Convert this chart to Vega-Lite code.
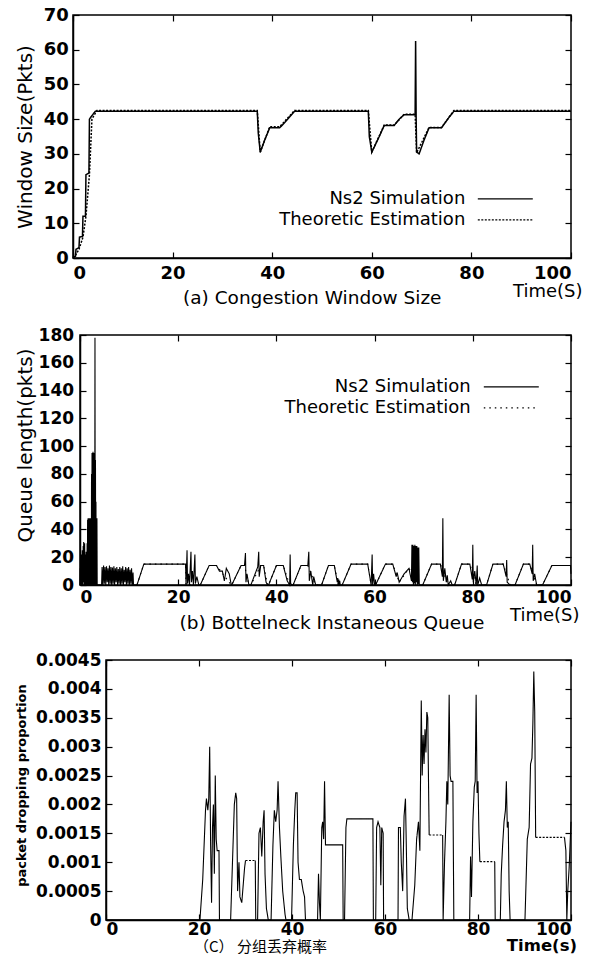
{
  "$schema": "https://vega.github.io/schema/vega-lite/v6.json",
  "padding": {"left": 0, "top": 5, "right": 4, "bottom": 0},
  "spacing": 16,
  "resolve": {"scale": {"strokeDash": "independent"}, "legend": {"strokeDash": "independent"}},
  "config": {
    "font": "DejaVu Sans",
    "view": {"stroke": "black", "strokeWidth": 1.5},
    "line": {"color": "black", "strokeWidth": 1.2},
    "axis": {"grid": false, "domainColor": "black", "domainWidth": 1.5, "tickColor": "black", "tickSize": -6, "tickWidth": 1.2, "labelColor": "black", "titleColor": "black", "labelFontWeight": "bold", "titleFontWeight": "normal", "labelFont": "DejaVu Sans", "titleFont": "DejaVu Sans"},
    "legend": {"orient": "none", "title": null, "symbolType": "M-3,0H3", "symbolSize": 336, "symbolStrokeWidth": 1.2, "symbolStrokeColor": "black", "labelAlign": "right", "labelFontSize": 18, "labelLimit": 400, "labelFont": "DejaVu Sans", "labelColor": "black", "padding": 0, "rowPadding": 2},
    "title": {"fontSize": 18.5, "fontWeight": "normal", "color": "black", "font": "DejaVu Sans"}
  },
  "vconcat": [
    {"spacing": 13, "hconcat": [
    {"width": 1, "height": 1, "view": {"stroke": null}, "data": {"values": []}, "mark": "point"},
    {
      "width": 498, "height": 243,
      "title": {"text": "(a) Congestion Window Size", "orient": "bottom", "anchor": "start", "frame": "group", "dx": 110, "offset": -11},
      "data": {"values": [
        {"t": 0, "v": 0.3, "s": "Ns2 Simulation"}, {"t": 0.5, "v": 0.5, "s": "Ns2 Simulation"}, {"t": 0.6, "v": 2.5, "s": "Ns2 Simulation"}, {"t": 1.2, "v": 3, "s": "Ns2 Simulation"}, {"t": 1.3, "v": 6, "s": "Ns2 Simulation"}, {"t": 1.9, "v": 6.2, "s": "Ns2 Simulation"}, {"t": 2.0, "v": 12, "s": "Ns2 Simulation"}, {"t": 2.5, "v": 12, "s": "Ns2 Simulation"}, {"t": 2.6, "v": 24, "s": "Ns2 Simulation"}, {"t": 3.2, "v": 24.5, "s": "Ns2 Simulation"}, {"t": 3.3, "v": 40, "s": "Ns2 Simulation"}, {"t": 3.8, "v": 41, "s": "Ns2 Simulation"}, {"t": 4.5, "v": 42.3, "s": "Ns2 Simulation"}, {"t": 37, "v": 42.3, "s": "Ns2 Simulation"}, {"t": 37.2, "v": 36, "s": "Ns2 Simulation"}, {"t": 37.6, "v": 30.5, "s": "Ns2 Simulation"}, {"t": 38.5, "v": 34, "s": "Ns2 Simulation"}, {"t": 39.5, "v": 37.5, "s": "Ns2 Simulation"}, {"t": 41.5, "v": 37.5, "s": "Ns2 Simulation"}, {"t": 42.5, "v": 39, "s": "Ns2 Simulation"}, {"t": 44.5, "v": 42.3, "s": "Ns2 Simulation"}, {"t": 59.3, "v": 42.3, "s": "Ns2 Simulation"}, {"t": 59.5, "v": 35, "s": "Ns2 Simulation"}, {"t": 60, "v": 30.5, "s": "Ns2 Simulation"}, {"t": 61.5, "v": 35, "s": "Ns2 Simulation"}, {"t": 62.5, "v": 38.2, "s": "Ns2 Simulation"}, {"t": 64.5, "v": 38.2, "s": "Ns2 Simulation"}, {"t": 65.5, "v": 40, "s": "Ns2 Simulation"}, {"t": 66.5, "v": 41.3, "s": "Ns2 Simulation"}, {"t": 68.7, "v": 41.3, "s": "Ns2 Simulation"}, {"t": 68.8, "v": 62.5, "s": "Ns2 Simulation"}, {"t": 68.9, "v": 41, "s": "Ns2 Simulation"}, {"t": 69, "v": 30.5, "s": "Ns2 Simulation"}, {"t": 69.5, "v": 30, "s": "Ns2 Simulation"}, {"t": 70.5, "v": 34, "s": "Ns2 Simulation"}, {"t": 71.5, "v": 37.5, "s": "Ns2 Simulation"}, {"t": 74, "v": 37.5, "s": "Ns2 Simulation"}, {"t": 75.5, "v": 40.5, "s": "Ns2 Simulation"}, {"t": 76.5, "v": 42.3, "s": "Ns2 Simulation"}, {"t": 100, "v": 42.3, "s": "Ns2 Simulation"},
        {"t": 0, "v": 0, "s": "Theoretic Estimation"}, {"t": 0.6, "v": 1, "s": "Theoretic Estimation"}, {"t": 1.2, "v": 2.5, "s": "Theoretic Estimation"}, {"t": 2, "v": 6, "s": "Theoretic Estimation"}, {"t": 2.6, "v": 12, "s": "Theoretic Estimation"}, {"t": 3.3, "v": 24, "s": "Theoretic Estimation"}, {"t": 3.8, "v": 40, "s": "Theoretic Estimation"}, {"t": 4.8, "v": 42.5, "s": "Theoretic Estimation"}, {"t": 37, "v": 42.5, "s": "Theoretic Estimation"}, {"t": 37.6, "v": 30.5, "s": "Theoretic Estimation"}, {"t": 39.5, "v": 37.8, "s": "Theoretic Estimation"}, {"t": 41.5, "v": 37.8, "s": "Theoretic Estimation"}, {"t": 44.5, "v": 42.5, "s": "Theoretic Estimation"}, {"t": 59.3, "v": 42.5, "s": "Theoretic Estimation"}, {"t": 60, "v": 30.5, "s": "Theoretic Estimation"}, {"t": 62.5, "v": 38.3, "s": "Theoretic Estimation"}, {"t": 64.5, "v": 38.3, "s": "Theoretic Estimation"}, {"t": 66.5, "v": 41.4, "s": "Theoretic Estimation"}, {"t": 68.7, "v": 41.4, "s": "Theoretic Estimation"}, {"t": 69, "v": 30.3, "s": "Theoretic Estimation"}, {"t": 71.5, "v": 37.6, "s": "Theoretic Estimation"}, {"t": 74, "v": 37.6, "s": "Theoretic Estimation"}, {"t": 76.5, "v": 42.5, "s": "Theoretic Estimation"}, {"t": 100, "v": 42.5, "s": "Theoretic Estimation"}
      ]},
      "layer": [
        {
          "mark": {"type": "line", "strokeWidth": 1.5},
          "encoding": {
            "x": {"field": "t", "type": "quantitative", "scale": {"domain": [0, 100], "nice": false}, "axis": {"values": [0, 20, 40, 60, 80, 100], "labelFontSize": 18, "labelPadding": 12, "title": "Time(S)", "titleFontSize": 18, "titleX": 509, "titleY": 33, "titleAlign": "right", "titleBaseline": "middle"}},
            "y": {"field": "v", "type": "quantitative", "scale": {"domain": [0, 70], "nice": false}, "axis": {"values": [0, 10, 20, 30, 40, 50, 60, 70], "labelFontSize": 18, "labelPadding": 10.6, "title": "Window Size(Pkts)", "titleFontSize": 20, "titleX": -48, "titleBaseline": "middle"}},
            "strokeDash": {"field": "s", "type": "nominal", "scale": {"domain": ["Ns2 Simulation", "Theoretic Estimation"], "range": [[1, 0], [2, 1.5]]}, "legend": {"legendX": 495.3, "legendY": 173.8, "labelOffset": -50}}
          }
        },
        {
          "mark": {"type": "line", "opacity": 0},
          "encoding": {
            "x": {"field": "t", "type": "quantitative", "axis": {"orient": "top", "labels": false, "title": null, "domain": false, "values": [0, 20, 40, 60, 80, 100]}},
            "y": {"field": "v", "type": "quantitative", "axis": {"orient": "right", "labels": false, "title": null, "domain": false, "values": [0, 10, 20, 30, 40, 50, 60, 70]}}
          }
        }
      ],
      "resolve": {"axis": {"x": "independent", "y": "independent"}}
    }]},
    {"spacing": 13, "hconcat": [
    {"width": 1, "height": 1, "view": {"stroke": null}, "data": {"values": []}, "mark": "point"},
    {
      "width": 491, "height": 250,
      "title": {"text": "(b) Bottelneck Instaneous Queue", "orient": "bottom", "anchor": "start", "frame": "group", "dx": 99.5, "offset": -10},
      "data": {"values": [
        {"t": 0, "v": 0, "s": "Ns2 Simulation"}, {"t": 0.05, "v": 12, "s": "Ns2 Simulation"}, {"t": 0.1, "v": 2, "s": "Ns2 Simulation"}, {"t": 0.15, "v": 18, "s": "Ns2 Simulation"}, {"t": 0.2, "v": 0, "s": "Ns2 Simulation"}, {"t": 0.25, "v": 22, "s": "Ns2 Simulation"}, {"t": 0.3, "v": 3, "s": "Ns2 Simulation"}, {"t": 0.35, "v": 15, "s": "Ns2 Simulation"}, {"t": 0.4, "v": 0, "s": "Ns2 Simulation"}, {"t": 0.45, "v": 25, "s": "Ns2 Simulation"}, {"t": 0.5, "v": 4, "s": "Ns2 Simulation"}, {"t": 0.55, "v": 20, "s": "Ns2 Simulation"}, {"t": 0.6, "v": 0, "s": "Ns2 Simulation"}, {"t": 0.65, "v": 28, "s": "Ns2 Simulation"}, {"t": 0.7, "v": 5, "s": "Ns2 Simulation"}, {"t": 0.75, "v": 31, "s": "Ns2 Simulation"}, {"t": 0.8, "v": 2, "s": "Ns2 Simulation"}, {"t": 0.85, "v": 26, "s": "Ns2 Simulation"}, {"t": 0.9, "v": 0, "s": "Ns2 Simulation"}, {"t": 0.95, "v": 30, "s": "Ns2 Simulation"}, {"t": 1.0, "v": 3, "s": "Ns2 Simulation"}, {"t": 1.05, "v": 22, "s": "Ns2 Simulation"}, {"t": 1.1, "v": 0, "s": "Ns2 Simulation"}, {"t": 1.15, "v": 19, "s": "Ns2 Simulation"}, {"t": 1.2, "v": 2, "s": "Ns2 Simulation"}, {"t": 1.25, "v": 24, "s": "Ns2 Simulation"}, {"t": 1.3, "v": 0, "s": "Ns2 Simulation"}, {"t": 1.35, "v": 20, "s": "Ns2 Simulation"}, {"t": 1.4, "v": 1, "s": "Ns2 Simulation"}, {"t": 1.45, "v": 30, "s": "Ns2 Simulation"},
        {"t": 1.5, "v": 0, "s": "Ns2 Simulation"}, {"t": 1.55, "v": 47, "s": "Ns2 Simulation"}, {"t": 1.6, "v": 2, "s": "Ns2 Simulation"}, {"t": 1.65, "v": 48, "s": "Ns2 Simulation"}, {"t": 1.7, "v": 0, "s": "Ns2 Simulation"}, {"t": 1.75, "v": 46, "s": "Ns2 Simulation"}, {"t": 1.8, "v": 3, "s": "Ns2 Simulation"}, {"t": 1.85, "v": 48, "s": "Ns2 Simulation"}, {"t": 1.9, "v": 0, "s": "Ns2 Simulation"}, {"t": 1.95, "v": 47, "s": "Ns2 Simulation"}, {"t": 2.0, "v": 1, "s": "Ns2 Simulation"}, {"t": 2.05, "v": 48, "s": "Ns2 Simulation"}, {"t": 2.1, "v": 0, "s": "Ns2 Simulation"}, {"t": 2.15, "v": 45, "s": "Ns2 Simulation"}, {"t": 2.2, "v": 2, "s": "Ns2 Simulation"}, {"t": 2.25, "v": 48, "s": "Ns2 Simulation"},
        {"t": 2.3, "v": 0, "s": "Ns2 Simulation"}, {"t": 2.35, "v": 80, "s": "Ns2 Simulation"}, {"t": 2.4, "v": 5, "s": "Ns2 Simulation"}, {"t": 2.45, "v": 95, "s": "Ns2 Simulation"}, {"t": 2.5, "v": 0, "s": "Ns2 Simulation"}, {"t": 2.55, "v": 94, "s": "Ns2 Simulation"}, {"t": 2.6, "v": 3, "s": "Ns2 Simulation"}, {"t": 2.65, "v": 96, "s": "Ns2 Simulation"}, {"t": 2.7, "v": 0, "s": "Ns2 Simulation"}, {"t": 2.75, "v": 92, "s": "Ns2 Simulation"}, {"t": 2.8, "v": 4, "s": "Ns2 Simulation"}, {"t": 2.85, "v": 95, "s": "Ns2 Simulation"}, {"t": 2.9, "v": 0, "s": "Ns2 Simulation"}, {"t": 2.95, "v": 70, "s": "Ns2 Simulation"}, {"t": 3.0, "v": 2, "s": "Ns2 Simulation"}, {"t": 3.05, "v": 178, "s": "Ns2 Simulation"}, {"t": 3.1, "v": 0, "s": "Ns2 Simulation"}, {"t": 3.15, "v": 90, "s": "Ns2 Simulation"}, {"t": 3.2, "v": 5, "s": "Ns2 Simulation"}, {"t": 3.25, "v": 60, "s": "Ns2 Simulation"}, {"t": 3.3, "v": 0, "s": "Ns2 Simulation"}, {"t": 3.35, "v": 48, "s": "Ns2 Simulation"}, {"t": 3.4, "v": 2, "s": "Ns2 Simulation"}, {"t": 3.45, "v": 48, "s": "Ns2 Simulation"}, {"t": 3.5, "v": 0, "s": "Ns2 Simulation"}, {"t": 4.4, "v": 0, "s": "Ns2 Simulation"},
        {"t": 4.5, "v": 13, "s": "Ns2 Simulation"}, {"t": 4.65, "v": 0, "s": "Ns2 Simulation"}, {"t": 4.8, "v": 14, "s": "Ns2 Simulation"}, {"t": 4.95, "v": 1, "s": "Ns2 Simulation"}, {"t": 5.1, "v": 13, "s": "Ns2 Simulation"}, {"t": 5.25, "v": 0, "s": "Ns2 Simulation"}, {"t": 5.4, "v": 13.5, "s": "Ns2 Simulation"}, {"t": 5.55, "v": 2, "s": "Ns2 Simulation"}, {"t": 5.7, "v": 12, "s": "Ns2 Simulation"}, {"t": 5.85, "v": 0, "s": "Ns2 Simulation"}, {"t": 6.0, "v": 14, "s": "Ns2 Simulation"}, {"t": 6.15, "v": 1, "s": "Ns2 Simulation"}, {"t": 6.3, "v": 13, "s": "Ns2 Simulation"}, {"t": 6.45, "v": 0, "s": "Ns2 Simulation"}, {"t": 6.6, "v": 12.5, "s": "Ns2 Simulation"}, {"t": 6.75, "v": 1, "s": "Ns2 Simulation"}, {"t": 6.9, "v": 13.5, "s": "Ns2 Simulation"}, {"t": 7.05, "v": 0, "s": "Ns2 Simulation"}, {"t": 7.2, "v": 12, "s": "Ns2 Simulation"}, {"t": 7.35, "v": 2, "s": "Ns2 Simulation"}, {"t": 7.5, "v": 13, "s": "Ns2 Simulation"}, {"t": 7.65, "v": 0, "s": "Ns2 Simulation"}, {"t": 7.8, "v": 11.5, "s": "Ns2 Simulation"}, {"t": 7.95, "v": 1, "s": "Ns2 Simulation"}, {"t": 8.1, "v": 13, "s": "Ns2 Simulation"}, {"t": 8.25, "v": 0, "s": "Ns2 Simulation"}, {"t": 8.4, "v": 12, "s": "Ns2 Simulation"}, {"t": 8.55, "v": 1, "s": "Ns2 Simulation"}, {"t": 8.7, "v": 13.5, "s": "Ns2 Simulation"}, {"t": 8.85, "v": 0, "s": "Ns2 Simulation"}, {"t": 9.0, "v": 11, "s": "Ns2 Simulation"}, {"t": 9.15, "v": 2, "s": "Ns2 Simulation"}, {"t": 9.3, "v": 13, "s": "Ns2 Simulation"}, {"t": 9.45, "v": 0, "s": "Ns2 Simulation"}, {"t": 9.6, "v": 12, "s": "Ns2 Simulation"}, {"t": 9.75, "v": 1, "s": "Ns2 Simulation"}, {"t": 9.9, "v": 13, "s": "Ns2 Simulation"}, {"t": 10.05, "v": 0, "s": "Ns2 Simulation"}, {"t": 10.2, "v": 11, "s": "Ns2 Simulation"}, {"t": 10.35, "v": 1, "s": "Ns2 Simulation"}, {"t": 10.5, "v": 12, "s": "Ns2 Simulation"}, {"t": 10.65, "v": 0, "s": "Ns2 Simulation"}, {"t": 10.8, "v": 9, "s": "Ns2 Simulation"}, {"t": 10.9, "v": 0, "s": "Ns2 Simulation"},
        {"t": 11.6, "v": 0, "s": "Ns2 Simulation"}, {"t": 13.0, "v": 15, "s": "Ns2 Simulation"}, {"t": 21.5, "v": 15, "s": "Ns2 Simulation"}, {"t": 21.6, "v": 0, "s": "Ns2 Simulation"}, {"t": 21.8, "v": 25, "s": "Ns2 Simulation"}, {"t": 21.9, "v": 1, "s": "Ns2 Simulation"}, {"t": 22.1, "v": 8, "s": "Ns2 Simulation"}, {"t": 22.3, "v": 0, "s": "Ns2 Simulation"}, {"t": 22.6, "v": 24, "s": "Ns2 Simulation"}, {"t": 22.7, "v": 2, "s": "Ns2 Simulation"}, {"t": 22.9, "v": 10, "s": "Ns2 Simulation"}, {"t": 23.1, "v": 0, "s": "Ns2 Simulation"}, {"t": 23.4, "v": 22, "s": "Ns2 Simulation"}, {"t": 23.5, "v": 1, "s": "Ns2 Simulation"}, {"t": 23.8, "v": 6, "s": "Ns2 Simulation"}, {"t": 24.2, "v": 0, "s": "Ns2 Simulation"},
        {"t": 24.5, "v": 0, "s": "Ns2 Simulation"}, {"t": 26.3, "v": 14, "s": "Ns2 Simulation"}, {"t": 27.8, "v": 14, "s": "Ns2 Simulation"}, {"t": 28.4, "v": 10, "s": "Ns2 Simulation"}, {"t": 29.0, "v": 10, "s": "Ns2 Simulation"}, {"t": 29.4, "v": 3, "s": "Ns2 Simulation"}, {"t": 29.8, "v": 12, "s": "Ns2 Simulation"}, {"t": 30.4, "v": 8, "s": "Ns2 Simulation"}, {"t": 30.8, "v": 0, "s": "Ns2 Simulation"},
        {"t": 30.9, "v": 0, "s": "Ns2 Simulation"}, {"t": 32.8, "v": 14, "s": "Ns2 Simulation"}, {"t": 33.5, "v": 14, "s": "Ns2 Simulation"}, {"t": 33.7, "v": 23, "s": "Ns2 Simulation"}, {"t": 33.8, "v": 2, "s": "Ns2 Simulation"}, {"t": 34.0, "v": 8, "s": "Ns2 Simulation"}, {"t": 34.4, "v": 0, "s": "Ns2 Simulation"},
        {"t": 34.8, "v": 0, "s": "Ns2 Simulation"}, {"t": 36.2, "v": 13, "s": "Ns2 Simulation"}, {"t": 36.4, "v": 24, "s": "Ns2 Simulation"}, {"t": 36.5, "v": 6, "s": "Ns2 Simulation"}, {"t": 36.8, "v": 14, "s": "Ns2 Simulation"}, {"t": 37.4, "v": 14, "s": "Ns2 Simulation"}, {"t": 37.9, "v": 2, "s": "Ns2 Simulation"}, {"t": 38.2, "v": 0, "s": "Ns2 Simulation"},
        {"t": 38.4, "v": 0, "s": "Ns2 Simulation"}, {"t": 40.0, "v": 14, "s": "Ns2 Simulation"}, {"t": 41.4, "v": 14, "s": "Ns2 Simulation"}, {"t": 42.2, "v": 3, "s": "Ns2 Simulation"}, {"t": 42.7, "v": 0, "s": "Ns2 Simulation"}, {"t": 42.8, "v": 22, "s": "Ns2 Simulation"}, {"t": 42.9, "v": 1, "s": "Ns2 Simulation"}, {"t": 43.2, "v": 0, "s": "Ns2 Simulation"},
        {"t": 43.4, "v": 0, "s": "Ns2 Simulation"}, {"t": 45.0, "v": 14, "s": "Ns2 Simulation"}, {"t": 46.4, "v": 14, "s": "Ns2 Simulation"}, {"t": 46.6, "v": 24, "s": "Ns2 Simulation"}, {"t": 46.7, "v": 3, "s": "Ns2 Simulation"}, {"t": 47.0, "v": 10, "s": "Ns2 Simulation"}, {"t": 47.4, "v": 0, "s": "Ns2 Simulation"}, {"t": 47.6, "v": 6, "s": "Ns2 Simulation"}, {"t": 48.0, "v": 0, "s": "Ns2 Simulation"},
        {"t": 49.2, "v": 0, "s": "Ns2 Simulation"}, {"t": 50.6, "v": 14, "s": "Ns2 Simulation"}, {"t": 51.8, "v": 14, "s": "Ns2 Simulation"}, {"t": 52.4, "v": 2, "s": "Ns2 Simulation"}, {"t": 52.5, "v": 5, "s": "Ns2 Simulation"}, {"t": 52.6, "v": 0, "s": "Ns2 Simulation"}, {"t": 52.7, "v": 4, "s": "Ns2 Simulation"}, {"t": 52.8, "v": 0, "s": "Ns2 Simulation"}, {"t": 52.9, "v": 3, "s": "Ns2 Simulation"}, {"t": 53.0, "v": 0, "s": "Ns2 Simulation"},
        {"t": 53.4, "v": 0, "s": "Ns2 Simulation"}, {"t": 55.2, "v": 15, "s": "Ns2 Simulation"}, {"t": 58.6, "v": 15, "s": "Ns2 Simulation"}, {"t": 59.3, "v": 0, "s": "Ns2 Simulation"}, {"t": 59.5, "v": 22, "s": "Ns2 Simulation"}, {"t": 59.6, "v": 0, "s": "Ns2 Simulation"}, {"t": 59.8, "v": 8, "s": "Ns2 Simulation"}, {"t": 60.0, "v": 0, "s": "Ns2 Simulation"},
        {"t": 60.2, "v": 0, "s": "Ns2 Simulation"}, {"t": 62.2, "v": 15, "s": "Ns2 Simulation"}, {"t": 63.7, "v": 15, "s": "Ns2 Simulation"}, {"t": 64.4, "v": 6, "s": "Ns2 Simulation"}, {"t": 64.6, "v": 9, "s": "Ns2 Simulation"}, {"t": 65.0, "v": 2, "s": "Ns2 Simulation"}, {"t": 66.0, "v": 8, "s": "Ns2 Simulation"}, {"t": 67.0, "v": 12, "s": "Ns2 Simulation"}, {"t": 67.5, "v": 3, "s": "Ns2 Simulation"},
        {"t": 67.6, "v": 29, "s": "Ns2 Simulation"}, {"t": 67.7, "v": 2, "s": "Ns2 Simulation"}, {"t": 67.8, "v": 29, "s": "Ns2 Simulation"}, {"t": 67.9, "v": 0, "s": "Ns2 Simulation"}, {"t": 68.0, "v": 28, "s": "Ns2 Simulation"}, {"t": 68.1, "v": 1, "s": "Ns2 Simulation"}, {"t": 68.2, "v": 29, "s": "Ns2 Simulation"}, {"t": 68.3, "v": 0, "s": "Ns2 Simulation"}, {"t": 68.4, "v": 28, "s": "Ns2 Simulation"}, {"t": 68.5, "v": 2, "s": "Ns2 Simulation"}, {"t": 68.6, "v": 28, "s": "Ns2 Simulation"}, {"t": 68.7, "v": 0, "s": "Ns2 Simulation"}, {"t": 68.8, "v": 27, "s": "Ns2 Simulation"}, {"t": 68.9, "v": 1, "s": "Ns2 Simulation"}, {"t": 69.0, "v": 27, "s": "Ns2 Simulation"}, {"t": 69.1, "v": 0, "s": "Ns2 Simulation"},
        {"t": 69.8, "v": 0, "s": "Ns2 Simulation"}, {"t": 71.6, "v": 15, "s": "Ns2 Simulation"}, {"t": 73.4, "v": 15, "s": "Ns2 Simulation"}, {"t": 73.8, "v": 6, "s": "Ns2 Simulation"}, {"t": 73.9, "v": 48, "s": "Ns2 Simulation"}, {"t": 74.0, "v": 3, "s": "Ns2 Simulation"}, {"t": 74.3, "v": 12, "s": "Ns2 Simulation"}, {"t": 74.6, "v": 2, "s": "Ns2 Simulation"}, {"t": 74.8, "v": 7, "s": "Ns2 Simulation"}, {"t": 75.0, "v": 0, "s": "Ns2 Simulation"}, {"t": 75.5, "v": 3, "s": "Ns2 Simulation"}, {"t": 75.8, "v": 0, "s": "Ns2 Simulation"},
        {"t": 76.3, "v": 0, "s": "Ns2 Simulation"}, {"t": 77.7, "v": 15, "s": "Ns2 Simulation"}, {"t": 79.4, "v": 15, "s": "Ns2 Simulation"}, {"t": 79.9, "v": 4, "s": "Ns2 Simulation"}, {"t": 80.0, "v": 29, "s": "Ns2 Simulation"}, {"t": 80.1, "v": 2, "s": "Ns2 Simulation"}, {"t": 80.4, "v": 10, "s": "Ns2 Simulation"}, {"t": 80.7, "v": 0, "s": "Ns2 Simulation"}, {"t": 80.9, "v": 14, "s": "Ns2 Simulation"}, {"t": 81.0, "v": 0, "s": "Ns2 Simulation"}, {"t": 81.4, "v": 5, "s": "Ns2 Simulation"}, {"t": 81.8, "v": 0, "s": "Ns2 Simulation"},
        {"t": 82.8, "v": 0, "s": "Ns2 Simulation"}, {"t": 84.1, "v": 15, "s": "Ns2 Simulation"}, {"t": 86.2, "v": 15, "s": "Ns2 Simulation"}, {"t": 86.8, "v": 6, "s": "Ns2 Simulation"}, {"t": 86.9, "v": 18, "s": "Ns2 Simulation"}, {"t": 87.0, "v": 2, "s": "Ns2 Simulation"}, {"t": 87.6, "v": 0, "s": "Ns2 Simulation"},
        {"t": 88.6, "v": 0, "s": "Ns2 Simulation"}, {"t": 90.3, "v": 15, "s": "Ns2 Simulation"}, {"t": 91.6, "v": 15, "s": "Ns2 Simulation"}, {"t": 92.1, "v": 8, "s": "Ns2 Simulation"}, {"t": 92.2, "v": 29, "s": "Ns2 Simulation"}, {"t": 92.3, "v": 3, "s": "Ns2 Simulation"}, {"t": 92.6, "v": 8, "s": "Ns2 Simulation"}, {"t": 93.0, "v": 0, "s": "Ns2 Simulation"},
        {"t": 94.2, "v": 0, "s": "Ns2 Simulation"}, {"t": 96.1, "v": 14, "s": "Ns2 Simulation"}, {"t": 99.9, "v": 14, "s": "Ns2 Simulation"}, {"t": 100, "v": 8, "s": "Ns2 Simulation"},
        {"t": 11.6, "v": 0, "s": "Theoretic Estimation"}, {"t": 13.0, "v": 15, "s": "Theoretic Estimation"}, {"t": 21.5, "v": 15, "s": "Theoretic Estimation"}, {"t": 21.6, "v": 0, "s": "Theoretic Estimation"}, {"t": 24.5, "v": 0, "s": "Theoretic Estimation"}, {"t": 26.3, "v": 14, "s": "Theoretic Estimation"}, {"t": 27.8, "v": 14, "s": "Theoretic Estimation"}, {"t": 30.8, "v": 0, "s": "Theoretic Estimation"}, {"t": 30.9, "v": 0, "s": "Theoretic Estimation"}, {"t": 32.8, "v": 14, "s": "Theoretic Estimation"}, {"t": 33.5, "v": 14, "s": "Theoretic Estimation"}, {"t": 34.4, "v": 0, "s": "Theoretic Estimation"}, {"t": 34.8, "v": 0, "s": "Theoretic Estimation"}, {"t": 36.8, "v": 14, "s": "Theoretic Estimation"}, {"t": 37.4, "v": 14, "s": "Theoretic Estimation"}, {"t": 38.2, "v": 0, "s": "Theoretic Estimation"}, {"t": 38.4, "v": 0, "s": "Theoretic Estimation"}, {"t": 40.0, "v": 14, "s": "Theoretic Estimation"}, {"t": 41.4, "v": 14, "s": "Theoretic Estimation"}, {"t": 42.7, "v": 0, "s": "Theoretic Estimation"}, {"t": 43.4, "v": 0, "s": "Theoretic Estimation"}, {"t": 45.0, "v": 14, "s": "Theoretic Estimation"}, {"t": 46.4, "v": 14, "s": "Theoretic Estimation"}, {"t": 48.0, "v": 0, "s": "Theoretic Estimation"}, {"t": 49.2, "v": 0, "s": "Theoretic Estimation"}, {"t": 50.6, "v": 14, "s": "Theoretic Estimation"}, {"t": 51.8, "v": 14, "s": "Theoretic Estimation"}, {"t": 52.6, "v": 0, "s": "Theoretic Estimation"}, {"t": 53.4, "v": 0, "s": "Theoretic Estimation"}, {"t": 55.2, "v": 15, "s": "Theoretic Estimation"}, {"t": 58.6, "v": 15, "s": "Theoretic Estimation"}, {"t": 59.3, "v": 0, "s": "Theoretic Estimation"}, {"t": 60.2, "v": 0, "s": "Theoretic Estimation"}, {"t": 62.2, "v": 15, "s": "Theoretic Estimation"}, {"t": 63.7, "v": 15, "s": "Theoretic Estimation"}, {"t": 65.0, "v": 2, "s": "Theoretic Estimation"}, {"t": 67.0, "v": 12, "s": "Theoretic Estimation"}, {"t": 69.1, "v": 0, "s": "Theoretic Estimation"}, {"t": 69.8, "v": 0, "s": "Theoretic Estimation"}, {"t": 71.6, "v": 15, "s": "Theoretic Estimation"}, {"t": 73.4, "v": 15, "s": "Theoretic Estimation"}, {"t": 75.0, "v": 0, "s": "Theoretic Estimation"}, {"t": 76.3, "v": 0, "s": "Theoretic Estimation"}, {"t": 77.7, "v": 15, "s": "Theoretic Estimation"}, {"t": 79.4, "v": 15, "s": "Theoretic Estimation"}, {"t": 80.7, "v": 0, "s": "Theoretic Estimation"}, {"t": 82.8, "v": 0, "s": "Theoretic Estimation"}, {"t": 84.1, "v": 15, "s": "Theoretic Estimation"}, {"t": 86.2, "v": 15, "s": "Theoretic Estimation"}, {"t": 87.6, "v": 0, "s": "Theoretic Estimation"}, {"t": 88.6, "v": 0, "s": "Theoretic Estimation"}, {"t": 90.3, "v": 15, "s": "Theoretic Estimation"}, {"t": 91.6, "v": 15, "s": "Theoretic Estimation"}, {"t": 93.0, "v": 0, "s": "Theoretic Estimation"}, {"t": 94.2, "v": 0, "s": "Theoretic Estimation"}, {"t": 96.1, "v": 14, "s": "Theoretic Estimation"}, {"t": 100, "v": 14, "s": "Theoretic Estimation"}
      ]},
      "layer": [
        {
          "mark": {"type": "line", "strokeWidth": 1.1},
          "encoding": {
            "x": {"field": "t", "type": "quantitative", "scale": {"domain": [0, 100], "nice": false}, "axis": {"values": [0, 20, 40, 60, 80, 100], "labelFontSize": 17, "labelPadding": 10.5, "title": "Time(S)", "titleFontSize": 18, "titleX": 499, "titleY": 30, "titleAlign": "right", "titleBaseline": "middle"}},
            "y": {"field": "v", "type": "quantitative", "scale": {"domain": [0, 180], "nice": false}, "axis": {"values": [0, 20, 40, 60, 80, 100, 120, 140, 160, 180], "labelFontSize": 17, "labelPadding": 12.4, "title": "Queue length(pkts)", "titleFontSize": 20, "titleX": -55, "titleY": 110, "titleBaseline": "middle"}},
            "strokeDash": {"field": "s", "type": "nominal", "scale": {"domain": ["Ns2 Simulation", "Theoretic Estimation"], "range": [[1, 0], [1.5, 4]]}, "legend": {"legendX": 501.3, "legendY": 41.8, "labelOffset": -50.6}}
          }
        },
        {
          "mark": {"type": "line", "opacity": 0},
          "encoding": {
            "x": {"field": "t", "type": "quantitative", "axis": {"orient": "top", "labels": false, "title": null, "domain": false, "values": [0, 20, 40, 60, 80, 100]}},
            "y": {"field": "v", "type": "quantitative", "axis": {"orient": "right", "labels": false, "title": null, "domain": false, "values": [0, 20, 40, 60, 80, 100, 120, 140, 160, 180]}}
          }
        }
      ],
      "resolve": {"axis": {"x": "independent", "y": "independent"}}
    }]},
    {"spacing": 13, "hconcat": [
    {"width": 1, "height": 1, "view": {"stroke": null}, "data": {"values": []}, "mark": "point"},
    {
      "width": 465, "height": 260,
      "title": {"text": "（C） 分组丢弃概率", "orient": "bottom", "anchor": "start", "frame": "group", "dx": 88, "offset": -14, "font": "Noto Sans CJK SC", "fontSize": 15},
      "data": {"values": [
        {"t": 0, "v": 0, "g": 1, "k": "s"}, {"t": 20.2, "v": 0, "g": 1, "k": "s"}, {"t": 20.8, "v": 0.0007, "g": 1, "k": "s"}, {"t": 21.4, "v": 0.0019, "g": 1, "k": "s"}, {"t": 21.6, "v": 0.0021, "g": 1, "k": "s"}, {"t": 21.9, "v": 0.0019, "g": 1, "k": "s"}, {"t": 22.1, "v": 0.0021, "g": 1, "k": "s"}, {"t": 22.3, "v": 0.003, "g": 1, "k": "s"}, {"t": 22.5, "v": 0.0013, "g": 1, "k": "s"}, {"t": 22.7, "v": 0.0003, "g": 1, "k": "s"}, {"t": 22.9, "v": 0.0016, "g": 1, "k": "s"}, {"t": 23.1, "v": 0.002, "g": 1, "k": "s"}, {"t": 23.3, "v": 0.0008, "g": 1, "k": "s"}, {"t": 23.5, "v": 0.0025, "g": 1, "k": "s"}, {"t": 23.7, "v": 0.0014, "g": 1, "k": "s"}, {"t": 23.9, "v": 0.0012, "g": 1, "k": "s"}, {"t": 24.3, "v": 0.0012, "g": 1, "k": "s"}, {"t": 24.4, "v": 0, "g": 1, "k": "s"}, {"t": 26.8, "v": 0, "g": 1, "k": "s"}, {"t": 27.2, "v": 0.001, "g": 1, "k": "s"}, {"t": 27.6, "v": 0.002, "g": 1, "k": "s"}, {"t": 27.9, "v": 0.0022, "g": 1, "k": "s"}, {"t": 28.1, "v": 0.0021, "g": 1, "k": "s"}, {"t": 28.3, "v": 0.0005, "g": 1, "k": "s"}, {"t": 28.6, "v": 0.001, "g": 1, "k": "s"}, {"t": 28.8, "v": 0.0004, "g": 1, "k": "s"}, {"t": 29.2, "v": 0.0003, "g": 1, "k": "s"}, {"t": 29.5, "v": 0.0006, "g": 1, "k": "s"}, {"t": 29.8, "v": 0.0009, "g": 1, "k": "s"}, {"t": 30.0, "v": 0.00103, "g": 1, "k": "s"},
        {"t": 30.0, "v": 0.00103, "g": 2, "k": "d"}, {"t": 32.1, "v": 0.00103, "g": 2, "k": "d"},
        {"t": 32.1, "v": 0.00103, "g": 3, "k": "s"}, {"t": 32.2, "v": 0, "g": 3, "k": "s"}, {"t": 32.6, "v": 0, "g": 3, "k": "s"}, {"t": 32.9, "v": 0.0015, "g": 3, "k": "s"}, {"t": 33.2, "v": 0.0016, "g": 3, "k": "s"}, {"t": 33.5, "v": 0.0011, "g": 3, "k": "s"}, {"t": 33.8, "v": 0.0017, "g": 3, "k": "s"}, {"t": 34.0, "v": 0.0019, "g": 3, "k": "s"}, {"t": 34.2, "v": 0.0008, "g": 3, "k": "s"}, {"t": 34.5, "v": 0.0002, "g": 3, "k": "s"}, {"t": 34.9, "v": 0, "g": 3, "k": "s"}, {"t": 35.5, "v": 0, "g": 3, "k": "s"}, {"t": 35.9, "v": 0.0013, "g": 3, "k": "s"}, {"t": 36.2, "v": 0.0019, "g": 3, "k": "s"}, {"t": 36.5, "v": 0.0017, "g": 3, "k": "s"}, {"t": 36.8, "v": 0.0019, "g": 3, "k": "s"}, {"t": 37.0, "v": 0.0024, "g": 3, "k": "s"}, {"t": 37.3, "v": 0.0016, "g": 3, "k": "s"}, {"t": 37.6, "v": 0.0011, "g": 3, "k": "s"}, {"t": 38.0, "v": 0.0005, "g": 3, "k": "s"}, {"t": 38.5, "v": 0.0001, "g": 3, "k": "s"}, {"t": 38.7, "v": 0, "g": 3, "k": "s"}, {"t": 39.9, "v": 0, "g": 3, "k": "s"}, {"t": 40.3, "v": 0.0013, "g": 3, "k": "s"}, {"t": 40.6, "v": 0.0019, "g": 3, "k": "s"}, {"t": 40.8, "v": 0.0022, "g": 3, "k": "s"}, {"t": 41.1, "v": 0.0022, "g": 3, "k": "s"}, {"t": 41.3, "v": 0.001, "g": 3, "k": "s"}, {"t": 41.6, "v": 0.0007, "g": 3, "k": "s"}, {"t": 42.0, "v": 0.0007, "g": 3, "k": "s"}, {"t": 42.4, "v": 0.0005, "g": 3, "k": "s"}, {"t": 42.7, "v": 0.0004, "g": 3, "k": "s"}, {"t": 42.9, "v": 0, "g": 3, "k": "s"}, {"t": 45.5, "v": 0, "g": 3, "k": "s"}, {"t": 45.7, "v": 0.0008, "g": 3, "k": "s"}, {"t": 45.9, "v": 0.0003, "g": 3, "k": "s"}, {"t": 46.1, "v": 0, "g": 3, "k": "s"}, {"t": 46.4, "v": 0.0016, "g": 3, "k": "s"}, {"t": 46.6, "v": 0.0017, "g": 3, "k": "s"}, {"t": 46.8, "v": 0.0014, "g": 3, "k": "s"}, {"t": 47.0, "v": 0.0024, "g": 3, "k": "s"}, {"t": 47.2, "v": 0.0013, "g": 3, "k": "s"}, {"t": 47.5, "v": 0.0013, "g": 3, "k": "s"}, {"t": 50.9, "v": 0.0013, "g": 3, "k": "s"}, {"t": 51.0, "v": 0, "g": 3, "k": "s"}, {"t": 51.3, "v": 0, "g": 3, "k": "s"}, {"t": 51.6, "v": 0.0016, "g": 3, "k": "s"}, {"t": 51.8, "v": 0.00175, "g": 3, "k": "s"}, {"t": 57.4, "v": 0.00175, "g": 3, "k": "s"}, {"t": 57.5, "v": 0, "g": 3, "k": "s"}, {"t": 58.0, "v": 0, "g": 3, "k": "s"}, {"t": 58.2, "v": 0.0016, "g": 3, "k": "s"}, {"t": 58.5, "v": 0.0017, "g": 3, "k": "s"}, {"t": 58.9, "v": 0.0016, "g": 3, "k": "s"}, {"t": 59.1, "v": 0.0006, "g": 3, "k": "s"}, {"t": 59.3, "v": 0.0016, "g": 3, "k": "s"}, {"t": 59.6, "v": 0.0015, "g": 3, "k": "s"}, {"t": 59.7, "v": 0, "g": 3, "k": "s"}, {"t": 62.8, "v": 0, "g": 3, "k": "s"}, {"t": 62.9, "v": 0.0016, "g": 3, "k": "s"}, {"t": 63.3, "v": 0.0016, "g": 3, "k": "s"}, {"t": 63.5, "v": 0.001, "g": 3, "k": "s"}, {"t": 63.8, "v": 0.0005, "g": 3, "k": "s"}, {"t": 64.1, "v": 0.0018, "g": 3, "k": "s"}, {"t": 64.4, "v": 0.0021, "g": 3, "k": "s"}, {"t": 64.6, "v": 0.0012, "g": 3, "k": "s"}, {"t": 64.8, "v": 0.0002, "g": 3, "k": "s"}, {"t": 65.2, "v": 0, "g": 3, "k": "s"}, {"t": 65.8, "v": 0, "g": 3, "k": "s"}, {"t": 66.4, "v": 0.0006, "g": 3, "k": "s"}, {"t": 66.8, "v": 0.0014, "g": 3, "k": "s"}, {"t": 67.2, "v": 0.0017, "g": 3, "k": "s"}, {"t": 67.5, "v": 0.0012, "g": 3, "k": "s"}, {"t": 67.8, "v": 0.0038, "g": 3, "k": "s"}, {"t": 68.0, "v": 0.0025, "g": 3, "k": "s"}, {"t": 68.2, "v": 0.0032, "g": 3, "k": "s"}, {"t": 68.4, "v": 0.0027, "g": 3, "k": "s"}, {"t": 68.6, "v": 0.0033, "g": 3, "k": "s"}, {"t": 68.8, "v": 0.0029, "g": 3, "k": "s"}, {"t": 69.0, "v": 0.0036, "g": 3, "k": "s"}, {"t": 69.2, "v": 0.0035, "g": 3, "k": "s"}, {"t": 69.4, "v": 0.0021, "g": 3, "k": "s"}, {"t": 69.5, "v": 0.00147, "g": 3, "k": "s"},
        {"t": 69.5, "v": 0.00147, "g": 4, "k": "d"}, {"t": 72.4, "v": 0.00147, "g": 4, "k": "d"},
        {"t": 72.4, "v": 0.00147, "g": 5, "k": "s"}, {"t": 72.5, "v": 0, "g": 5, "k": "s"}, {"t": 72.8, "v": 0.001, "g": 5, "k": "s"}, {"t": 73.1, "v": 0.0017, "g": 5, "k": "s"}, {"t": 73.3, "v": 0.0024, "g": 5, "k": "s"}, {"t": 73.5, "v": 0.002, "g": 5, "k": "s"}, {"t": 73.8, "v": 0.0039, "g": 5, "k": "s"}, {"t": 74.0, "v": 0.0025, "g": 5, "k": "s"}, {"t": 74.2, "v": 0.0024, "g": 5, "k": "s"}, {"t": 74.6, "v": 0.0024, "g": 5, "k": "s"}, {"t": 74.8, "v": 0, "g": 5, "k": "s"}, {"t": 78.2, "v": 0, "g": 5, "k": "s"}, {"t": 78.4, "v": 0.0011, "g": 5, "k": "s"}, {"t": 78.6, "v": 0.0004, "g": 5, "k": "s"}, {"t": 78.9, "v": 0.0017, "g": 5, "k": "s"}, {"t": 79.2, "v": 0.0023, "g": 5, "k": "s"}, {"t": 79.4, "v": 0.0024, "g": 5, "k": "s"}, {"t": 79.6, "v": 0.0039, "g": 5, "k": "s"}, {"t": 79.8, "v": 0.0022, "g": 5, "k": "s"}, {"t": 80.0, "v": 0.0024, "g": 5, "k": "s"}, {"t": 80.2, "v": 0.0015, "g": 5, "k": "s"}, {"t": 80.4, "v": 0.00101, "g": 5, "k": "s"},
        {"t": 80.4, "v": 0.00101, "g": 6, "k": "d"}, {"t": 83.6, "v": 0.00101, "g": 6, "k": "d"},
        {"t": 83.6, "v": 0.00101, "g": 7, "k": "s"}, {"t": 83.7, "v": 0, "g": 7, "k": "s"}, {"t": 84.8, "v": 0, "g": 7, "k": "s"}, {"t": 85.0, "v": 0.0008, "g": 7, "k": "s"}, {"t": 85.3, "v": 0.0013, "g": 7, "k": "s"}, {"t": 85.6, "v": 0.0017, "g": 7, "k": "s"}, {"t": 85.9, "v": 0.0019, "g": 7, "k": "s"}, {"t": 86.1, "v": 0.0024, "g": 7, "k": "s"}, {"t": 86.3, "v": 0.0016, "g": 7, "k": "s"}, {"t": 86.5, "v": 0.0017, "g": 7, "k": "s"}, {"t": 86.7, "v": 0.0005, "g": 7, "k": "s"}, {"t": 86.9, "v": 0, "g": 7, "k": "s"}, {"t": 90.1, "v": 0, "g": 7, "k": "s"}, {"t": 90.6, "v": 0.0014, "g": 7, "k": "s"}, {"t": 91.0, "v": 0.0016, "g": 7, "k": "s"}, {"t": 91.3, "v": 0.0027, "g": 7, "k": "s"}, {"t": 91.6, "v": 0.0028, "g": 7, "k": "s"}, {"t": 91.8, "v": 0.0034, "g": 7, "k": "s"}, {"t": 92.0, "v": 0.0043, "g": 7, "k": "s"}, {"t": 92.2, "v": 0.0036, "g": 7, "k": "s"}, {"t": 92.4, "v": 0.00143, "g": 7, "k": "s"},
        {"t": 92.4, "v": 0.00143, "g": 8, "k": "d"}, {"t": 98.6, "v": 0.00143, "g": 8, "k": "d"},
        {"t": 98.6, "v": 0.00143, "g": 9, "k": "s"}, {"t": 98.9, "v": 0.0012, "g": 9, "k": "s"}, {"t": 99.1, "v": 0, "g": 9, "k": "s"}, {"t": 99.3, "v": 0.0005, "g": 9, "k": "s"}, {"t": 99.6, "v": 0.0009, "g": 9, "k": "s"}, {"t": 99.8, "v": 0.0013, "g": 9, "k": "s"}, {"t": 100, "v": 0.0017, "g": 9, "k": "s"}
      ]},
      "layer": [
        {
          "mark": {"type": "line", "strokeWidth": 1.1},
          "encoding": {
            "x": {"field": "t", "type": "quantitative", "scale": {"domain": [0, 100], "nice": false}, "axis": {"values": [0, 20, 40, 60, 80, 100], "labelFontSize": 17, "labelPadding": 7.5, "title": "Time(s)", "titleFontSize": 16.5, "titleFontWeight": "bold", "titleX": 470.5, "titleY": 25, "titleAlign": "right", "titleBaseline": "middle"}},
            "y": {"field": "v", "type": "quantitative", "scale": {"domain": [0, 0.0045], "nice": false}, "axis": {"values": [0, 0.0005, 0.001, 0.0015, 0.002, 0.0025, 0.003, 0.0035, 0.004, 0.0045], "format": ".4~f", "labelFontSize": 17, "labelPadding": 11, "title": "packet dropping proportion", "titleFontSize": 13, "titleFontWeight": "bold", "titleX": -84.5, "titleY": 125, "titleBaseline": "middle"}},
            "detail": {"field": "g", "type": "nominal"},
            "strokeDash": {"field": "k", "type": "nominal", "scale": {"domain": ["s", "d"], "range": [[1, 0], [2, 1.5]]}, "legend": null}
          }
        },
        {
          "mark": {"type": "line", "opacity": 0},
          "encoding": {
            "x": {"field": "t", "type": "quantitative", "axis": {"orient": "top", "labels": false, "title": null, "domain": false, "values": [0, 20, 40, 60, 80, 100]}},
            "y": {"field": "v", "type": "quantitative", "axis": {"orient": "right", "labels": false, "title": null, "domain": false, "values": [0, 0.0005, 0.001, 0.0015, 0.002, 0.0025, 0.003, 0.0035, 0.004, 0.0045]}}
          }
        }
      ],
      "resolve": {"axis": {"x": "independent", "y": "independent"}}
    }]}
  ]
}
